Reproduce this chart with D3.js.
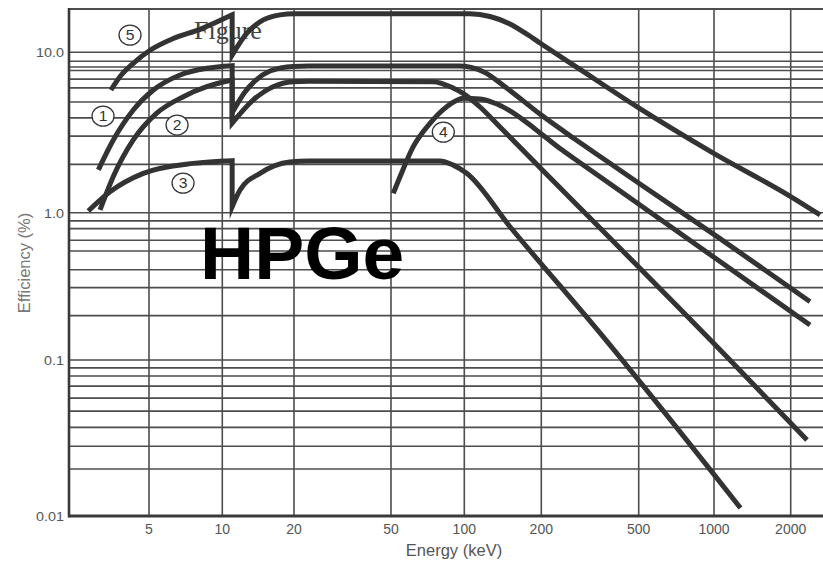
<!DOCTYPE html>
<html>
<head>
<meta charset="utf-8">
<script src="https://cdn.jsdelivr.net/npm/d3@7"></script>
<style>
  html, body { margin: 0; padding: 0; background: #fff; }
  svg { display: block; }
  text { font-family: "Liberation Sans", Arial, Helvetica, sans-serif; }
</style>
</head>
<body>
<svg id="chart" width="823" height="562"></svg>
<script>
// ---- data -------------------------------------------------------------
const energyTicks = [5, 10, 20, 50, 100, 200, 500, 1000, 2000];
const energyTickLabels = ["5", "10", "20", "50", "100", "200", "500", "1000", "2000"];
const efficiencyTicks = [0.01, 0.1, 1, 10];
const efficiencyTickLabels = ["0.01", "0.1", "1.0", "10.0"];

// horizontal rulings of the log paper, decade by decade
const gridTopDecade = [8.8, 8.1, 7.7, 6.8, 6.0, 4.9, 3.9, 3.0, 2.0];
const gridMidDecade = [0.88, 0.78, 0.65, 0.55, 0.41, 0.31, 0.2];
const gridLowDecade = [0.089, 0.079, 0.068, 0.057, 0.047, 0.037, 0.028, 0.02];

// Ge K absorption edge (keV)
const kEdge = 11;

// efficiency curves [energy keV, efficiency %], split at the K edge
const curve1Below = [[3.10, 1.85], [3.57, 2.84], [4.31, 4.37], [5.21, 5.82], [6.71, 7.22], [8.63, 7.95], [kEdge, 8.25]];
const curve1Above = [[kEdge, 4.2], [12.45, 5.66], [13.72, 6.63], [15.86, 7.64], [19.8, 8.16], [23, 8.2], [95, 8.2],
  [118.7, 7.57], [146.4, 5.99], [197.6, 4.12], [270.3, 2.92], [370, 2.10], [506, 1.51], [1056, 0.667], [2382, 0.249]];

const curve2Below = [[3.15, 1.04], [3.57, 1.68], [4.31, 2.84], [5.38, 4.17], [6.92, 5.29], [8.63, 6.10], [kEdge, 6.72]];
const curve2Above = [[kEdge, 3.62], [13.46, 5.04], [16.32, 6.10], [19.8, 6.56], [23, 6.6], [74.4, 6.56],
  [89.9, 5.99], [98.8, 5.55], [115.2, 4.56], [137.9, 3.42], [287.9, 1.07], [347.3, 0.787], [1125, 0.1048], [2318, 0.0307]];

const curve3Below = [[2.82, 1.025], [3.46, 1.35], [4.74, 1.76], [7.60, 2.03], [kEdge, 2.11]];
const curve3Above = [[kEdge, 1.09], [11.87, 1.385], [14.4, 1.76], [19.2, 2.07], [23, 2.1], [79.4, 2.1],
  [90.1, 1.98], [102.2, 1.76], [150.9, 0.803], [347.3, 0.1526], [1270, 0.01125]];

const curve4 = [[51.1, 1.32], [54.5, 1.68], [61.7, 2.58], [72.3, 3.61], [84.7, 4.58], [99.1, 5.17], [115.2, 5.12],
  [134.2, 4.76], [157.9, 4.12], [189, 3.33], [238.5, 2.51], [287.9, 2.05], [506, 1.116], [1056, 0.466], [2382, 0.1728]];

const curve5Below = [[3.49, 5.82], [3.80, 7.04], [4.31, 8.54], [5.05, 10.3], [6.29, 12.2], [8.10, 13.9], [kEdge, 17.1]];
const curve5Above = [[kEdge, 9.6], [12.66, 13.1], [14.86, 15.9], [17.47, 17.1], [20, 17.4], [105, 17.35],
  [126, 16.7], [150.9, 15.0], [172.7, 13.19], [197.6, 11.43], [288, 7.82], [491, 4.58], [994, 2.35], [2000, 1.26], [2610, 0.965]];

// curve tags: [number, energy keV, efficiency %]
const curveTags = [["1", 3.24, 4.0], ["2", 6.52, 3.52], ["3", 6.9, 1.53], ["4", 82, 3.18], ["5", 4.18, 12.8]];

// ---- layout -----------------------------------------------------------
// the paper is hand-ruled, so both log axes are anchored decade by decade
const xAnchors = [2.35, 5, 10, 20, 50, 100, 200, 500, 1000, 2000, 2680];
const xAnchorPx = [69, 149, 222.3, 294, 391, 464.3, 541.3, 638.7, 714, 790.7, 823];
const yAnchors = [0.01, 0.1, 1, 10, 18.6];
const yAnchorPx = [516, 360, 212.7, 52.3, 9];

const x = d3.scaleLog().domain(xAnchors).range(xAnchorPx);
const y = d3.scaleLog().domain(yAnchors).range(yAnchorPx);

const plotLeft = x(xAnchors[0]), plotRight = x(xAnchors[xAnchors.length - 1]);
const plotTop = y(yAnchors[yAnchors.length - 1]), plotBottom = y(yAnchors[0]);

const svg = d3.select("#chart");
const gridColor = "#4d4d4d";
const inkColor = "#333";

// ---- grid -------------------------------------------------------------
const gGrid = svg.append("g");
const hLines = [...efficiencyTicks, ...gridTopDecade, ...gridMidDecade, ...gridLowDecade];
gGrid.selectAll("line.h").data(hLines).join("line")
  .attr("class", "h")
  .attr("x1", plotLeft).attr("x2", plotRight)
  .attr("y1", d => y(d)).attr("y2", d => y(d))
  .attr("stroke", gridColor).attr("stroke-width", 1.6);

gGrid.selectAll("line.v").data(energyTicks).join("line")
  .attr("class", "v")
  .attr("x1", d => x(d)).attr("x2", d => x(d))
  .attr("y1", plotTop).attr("y2", plotBottom)
  .attr("stroke", gridColor).attr("stroke-width", 1.6);

// frame: top, left and bottom edges
gGrid.append("line").attr("x1", plotLeft).attr("x2", plotRight).attr("y1", plotTop).attr("y2", plotTop)
  .attr("stroke", gridColor).attr("stroke-width", 2);
gGrid.append("line").attr("x1", plotLeft).attr("x2", plotLeft).attr("y1", plotTop - 1).attr("y2", plotBottom + 1.5)
  .attr("stroke", "#3a3a3a").attr("stroke-width", 2.6);
gGrid.append("line").attr("x1", plotLeft).attr("x2", plotRight).attr("y1", plotBottom).attr("y2", plotBottom)
  .attr("stroke", "#3a3a3a").attr("stroke-width", 3);

// ---- caption under the curves ------------------------------------------
svg.append("text")
  .attr("x", 194).attr("y", 39)
  .style("font-family", "'Liberation Serif', 'Times New Roman', serif")
  .style("font-size", "26px")
  .attr("fill", "#444")
  .text("Figure");

// ---- curves -----------------------------------------------------------
const line = d3.line().x(d => x(d[0])).y(d => y(d[1])).curve(d3.curveMonotoneX);
const withEdge = (below, above) => line(below) + line(above).replace(/^M/, "L");

const curvePaths = [
  withEdge(curve5Below, curve5Above),
  withEdge(curve1Below, curve1Above),
  withEdge(curve2Below, curve2Above),
  withEdge(curve3Below, curve3Above),
  line(curve4)
];
svg.append("g").selectAll("path").data(curvePaths).join("path")
  .attr("d", d => d)
  .attr("fill", "none")
  .attr("stroke", inkColor)
  .attr("stroke-width", 5)
  .attr("stroke-linejoin", "miter")
  .attr("stroke-miterlimit", 10)
  .attr("stroke-linecap", "butt");

// ---- circled curve numbers ---------------------------------------------
const tags = svg.append("g").selectAll("g").data(curveTags).join("g")
  .attr("transform", d => `translate(${x(d[1])},${y(d[2])})`);
tags.append("ellipse").attr("rx", 11).attr("ry", 10)
  .attr("fill", "#fff").attr("stroke", inkColor).attr("stroke-width", 1.3);
tags.append("text")
  .attr("text-anchor", "middle").attr("y", 5)
  .attr("transform", "scale(1.12,1)")
  .style("font-size", "14px").attr("fill", inkColor)
  .text(d => d[0]);

// ---- big label ---------------------------------------------------------
svg.append("text")
  .attr("x", 200).attr("y", 279)
  .style("font-size", "75px").style("font-weight", "bold")
  .attr("fill", "#000")
  .text("HPGe");

// ---- axes labels -------------------------------------------------------
svg.append("g").selectAll("text").data(energyTicks).join("text")
  .attr("x", d => x(d)).attr("y", 534)
  .attr("text-anchor", "middle")
  .style("font-size", "14px").attr("fill", "#555")
  .text((d, i) => energyTickLabels[i]);

svg.append("g").selectAll("text").data(efficiencyTicks).join("text")
  .attr("transform", d => `translate(64,${y(d) + 5}) scale(1.15,1)`)
  .attr("text-anchor", "end")
  .style("font-size", "12.5px").attr("fill", "#555")
  .text((d, i) => efficiencyTickLabels[i]);

svg.append("text")
  .attr("x", 454).attr("y", 556)
  .attr("text-anchor", "middle")
  .style("font-size", "16.5px").attr("fill", "#555")
  .text("Energy (keV)");

svg.append("text")
  .attr("transform", "translate(30,263) rotate(-90)")
  .attr("text-anchor", "middle")
  .style("font-size", "16.5px").attr("fill", "#777")
  .text("Efficiency (%)");
</script>
</body>
</html>
